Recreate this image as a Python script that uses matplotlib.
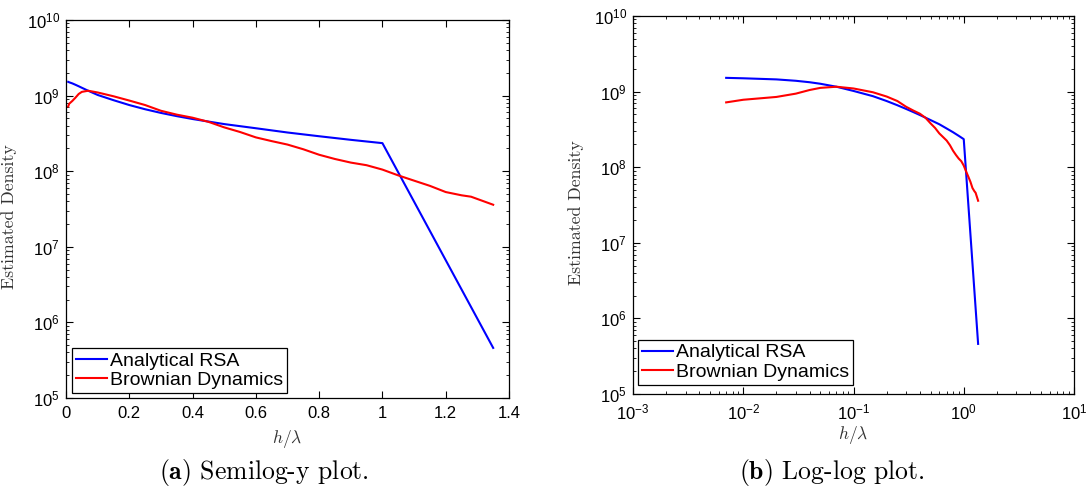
import numpy as np
import matplotlib
matplotlib.use('Agg')
import matplotlib.pyplot as plt
from matplotlib.ticker import LogLocator, LogFormatterMathtext, NullFormatter

plt.rcParams['font.family'] = ['Liberation Sans', 'DejaVu Sans']
plt.rcParams['mathtext.fontset'] = 'custom'
plt.rcParams['mathtext.rm'] = 'Liberation Sans'
plt.rcParams['mathtext.it'] = 'Liberation Sans:italic'
plt.rcParams['mathtext.bf'] = 'Liberation Sans:bold'

# data
h_rsa = [0.007, 0.01, 0.02, 0.03, 0.04, 0.05, 0.07, 0.1, 0.15, 0.2, 0.25,
         0.3, 0.35, 0.4, 0.5, 0.6, 0.7, 0.8, 0.9, 1.0, 1.35]
rho_rsa = [1.52e9, 1.5e9, 1.45e9, 1.39e9, 1.33e9, 1.27e9, 1.16e9, 1.02e9,
           8.7e8, 7.5e8, 6.6e8, 5.9e8, 5.35e8, 4.9e8, 4.2e8, 3.7e8, 3.25e8,
           2.9e8, 2.6e8, 2.35e8, 4.6e5]

h_bd = [0.007, 0.01, 0.02, 0.03, 0.04, 0.05, 0.07, 0.1, 0.15, 0.2, 0.25,
        0.3, 0.35, 0.4, 0.45, 0.5, 0.55, 0.6, 0.65, 0.7, 0.75, 0.8, 0.85,
        0.9, 0.95, 1.0, 1.05, 1.1, 1.15, 1.2, 1.25, 1.28, 1.32, 1.35]
rho_bd = [7.2e8, 7.8e8, 8.5e8, 9.4e8, 1.05e9, 1.12e9, 1.16e9, 1.1e9, 9.8e8,
          8.6e8, 7.5e8, 6.3e8, 5.6e8, 5.1e8, 4.5e8, 3.8e8, 3.3e8, 2.8e8,
          2.5e8, 2.25e8, 1.95e8, 1.65e8, 1.45e8, 1.3e8, 1.2e8, 1.05e8,
          8.8e7, 7.5e7, 6.4e7, 5.3e7, 4.8e7, 4.6e7, 4.0e7, 3.6e7]

labels = ['Analytical RSA', 'Brownian Dynamics']
captions = [('a', 'Semilog-y plot.'), ('b', 'Log-log plot.')]

W, H = 1091, 491
fig = plt.figure(figsize=(W / 100, H / 100), dpi=100)

ax1 = fig.add_axes([66 / W, 1 - 398 / H, (509 - 66) / W, (398 - 20) / H])
ax2 = fig.add_axes([633 / W, 1 - 394 / H, (1074 - 633) / W, (394 - 16) / H])


def style(ax, leg_anchor):
    ax.set_yscale('log')
    ax.set_ylim(1e5, 1e10)
    ax.yaxis.set_major_locator(LogLocator(base=10, numticks=20))
    ax.yaxis.set_minor_locator(LogLocator(base=10, subs=np.arange(2, 10), numticks=20))
    ax.yaxis.set_major_formatter(LogFormatterMathtext())
    ax.yaxis.set_minor_formatter(NullFormatter())
    ax.tick_params(which='both', direction='in', top=True, right=True,
                   labelsize=12, pad=4.5)
    ax.tick_params(axis='x', pad=6)
    ax.tick_params(which='major', length=5, width=0.8)
    ax.tick_params(which='minor', length=2.5, width=0.6)
    for s in ax.spines.values():
        s.set_linewidth(0.9)
    ax.set_ylabel('Estimated Density', family='cmr10', fontsize=12.8,
                  color='#333333')
    ax.yaxis.set_label_coords(-0.111, 0.48)
    ax.set_xlabel(r'$h/\lambda$', math_fontfamily='cm', fontsize=12.5,
                  color='#333333')
    ax.xaxis.set_label_coords(0.5, -0.08)
    leg = ax.legend(loc='lower left', bbox_to_anchor=leg_anchor, fontsize=14,
                    fancybox=False, edgecolor='black', framealpha=1,
                    borderaxespad=0, handlelength=1.6, handletextpad=0.15,
                    labelspacing=0.1, borderpad=0.2)
    leg.get_frame().set_linewidth(0.9)


ax1.plot(h_rsa, rho_rsa, color='#0000ff', lw=1.5, label=labels[0])
ax1.plot(h_bd, rho_bd, color='#ff0000', lw=1.5, label=labels[1])
ax1.set_xlim(0, 1.4)
ax1.set_xticks(np.arange(0, 1.41, 0.2))
ax1.set_xticklabels(['0', '0.2', '0.4', '0.6', '0.8', '1', '1.2', '1.4'])
style(ax1, (0.0135, 0.013))

ax2.plot(h_rsa, rho_rsa, color='#0000ff', lw=1.5, label=labels[0])
ax2.plot(h_bd, rho_bd, color='#ff0000', lw=1.5, label=labels[1])
ax2.set_xscale('log')
ax2.set_xlim(1e-3, 1e1)
ax2.xaxis.set_major_locator(LogLocator(base=10, numticks=20))
ax2.xaxis.set_minor_locator(LogLocator(base=10, subs=np.arange(2, 10), numticks=20))
ax2.xaxis.set_major_formatter(LogFormatterMathtext())
ax2.xaxis.set_minor_formatter(NullFormatter())
style(ax2, (0.011, 0.024))

for (letter, text), xc in zip(captions, [264, 832]):
    fig.text(xc / W, 1 - 472 / H, r'$\mathbf{(' + letter + ')}$ ' + text,
             family='cmr10', math_fontfamily='cm', fontsize=18.5,
             ha='center', va='center')

fig.savefig('out.png', dpi=100)
